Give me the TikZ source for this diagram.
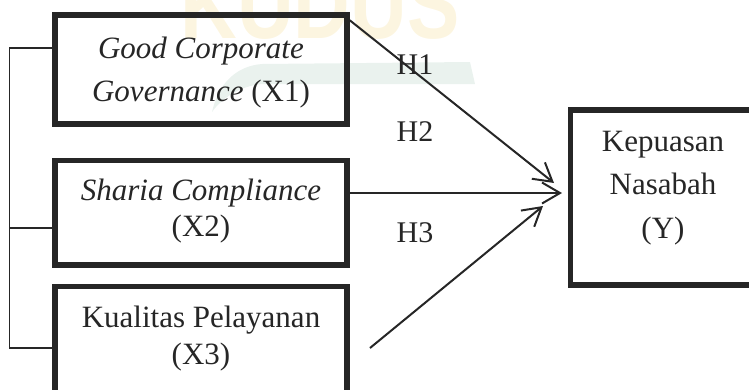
\documentclass[tikz,border=0pt]{standalone}
\usepackage{fontspec}
\setmainfont{Liberation Serif}
\usetikzlibrary{arrows.meta,calc}
\definecolor{wmyellow}{HTML}{FCF5E0}
\definecolor{wmgreen}{HTML}{EAF2EE}
\begin{document}
\begin{tikzpicture}[x=1pt,y=-1pt,
  box/.style={draw=black!85,line width=5.5pt,rectangle,inner sep=0pt},
  boxtext/.style={align=center,inner sep=0pt,text=black!85,font=\fontsize{31}{43}\selectfont},
  conn/.style={draw=black!85,line width=2pt,-{Straight Barb[length=18pt,width=21pt,line width=2pt]}},
  brk/.style={draw=black!85,line width=1.5pt},
  hlab/.style={font=\fontsize{30}{36}\selectfont,text=black!85,inner sep=0pt}]
\useasboundingbox (0,0) rectangle (749,389);
\clip (0,0) rectangle (749,389);
% watermark
\fill[wmgreen] (212,112) .. controls (218,85) and (235,66) .. (262,64) -- (470,62) -- (475,84) -- (262,84) .. controls (240,86) and (222,98) .. (212,112) -- cycle;
\node[anchor=south,inner sep=0pt,text=wmyellow,font=\fontspec{Liberation Sans}\bfseries\fontsize{98}{98}\selectfont] (wm) at (320,40) {\scalebox{0.8}[1]{KUDUS}};
% boxes
\node[box,minimum width=292pt,minimum height=109pt] (X1) at (201,69.5) {};
\node[box,minimum width=292pt,minimum height=104.5pt] (X2) at (201,212.75) {};
\node[box,minimum width=292pt,minimum height=113.5pt] (X3) at (201,343.25) {};
\node[box,minimum width=185pt,minimum height=175pt] (Y) at (663,197.5) {};
% box texts
\node[boxtext] (X1t) at (201,73) {\textit{Good Corporate}\\\textit{Governance} (X1)};
\node[boxtext,font=\fontsize{31}{36}\selectfont] (X2t) at (201,211) {\textit{Sharia Compliance}\\(X2)};
\node[boxtext,font=\fontsize{31}{37}\selectfont] (X3t) at (201,339) {Kualitas Pelayanan\\(X3)};
\node[boxtext,font=\fontsize{31}{43.5}\selectfont] (Yt) at (663,188) {Kepuasan\\Nasabah\\(Y)};
% bracket
\coordinate (b1) at (9.5,48);
\coordinate (b2) at (9.5,228);
\coordinate (b3) at (9.5,348);
\draw[brk] (X1.west |- b1) -- (b1) -- (b3) -- (X3.west |- b3);
\draw[brk] (b2) -- (X2.west |- b2);
% arrows
\coordinate (t1) at (554,183);
\coordinate (t2) at (562,193);
\coordinate (t3) at (543,206);
\coordinate (s3) at (370,348);
\draw[conn] ($(X1.north east)+(0,8)$) -- (t1);
\draw[conn] (X2.east |- t2) -- (t2);
\draw[conn] (s3) -- (t3);
% labels
\node[hlab] (H1) at (415,65) {H1};
\node[hlab] (H2) at (415,132) {H2};
\node[hlab] (H3) at (415,233) {H3};
\end{tikzpicture}
\end{document}
